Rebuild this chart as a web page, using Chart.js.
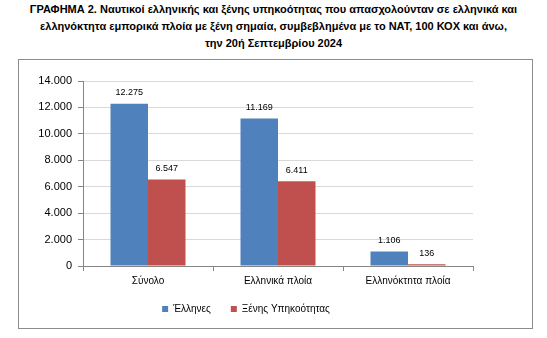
<!DOCTYPE html>
<html><head><meta charset="utf-8">
<script src="https://cdn.jsdelivr.net/npm/chart.js@4"></script>
<style>
html,body{margin:0;padding:0;background:#fff;width:547px;height:338px;overflow:hidden;}
#title{position:absolute;left:0;top:1px;width:547px;text-align:center;font:bold 11px "Liberation Sans",Arial,sans-serif;line-height:17px;color:#000;}
#frame{position:absolute;left:18px;top:59px;width:515px;height:270px;border:1px solid #8c8c8c;box-sizing:border-box;}
#wrap{position:absolute;left:19px;top:60px;width:513px;height:268px;}
</style></head><body>
<div id="title">ΓΡΑΦΗΜΑ 2. Ναυτικοί ελληνικής και ξένης υπηκοότητας που απασχολούνταν σε ελληνικά και<br>ελληνόκτητα εμπορικά πλοία με ξένη σημαία, συμβεβλημένα με το ΝΑΤ, 100 ΚΟΧ και άνω,<br>την 20ή Σεπτεμβρίου 2024</div>
<div id="frame"></div>
<div id="wrap"><canvas id="c"></canvas></div>
<script>
const categories = ['Σύνολο', 'Ελληνικά πλοία', 'Ελληνόκτητα πλοία'];
const seriesNames = ['Έλληνες', 'Ξένης Υπηκοότητας'];
const greeks = [12275, 11169, 1106];
const foreigners = [6547, 6411, 136];
const yMin = 0, yMax = 14000, yStep = 2000;

const fmt = n => String(n).replace(/\B(?=(\d{3})+(?!\d))/g, '.');
const FONT = '"Liberation Sans", Arial, sans-serif';

const valueLabels = {
  id: 'valueLabels',
  afterDatasetsDraw(chart) {
    const ctx = chart.ctx;
    ctx.save();
    ctx.font = '9px ' + FONT;
    ctx.fillStyle = '#000';
    ctx.textAlign = 'center';
    ctx.textBaseline = 'middle';
    chart.data.datasets.forEach((ds, i) => {
      chart.getDatasetMeta(i).data.forEach((el, j) => {
        ctx.fillText(fmt(ds.data[j]), el.x, el.y - 11);
      });
    });
    ctx.restore();
  }
};

new Chart(document.getElementById('c'), {
  type: 'bar',
  data: {
    labels: categories,
    datasets: [
      { label: seriesNames[0], data: greeks, backgroundColor: '#4F81BD', borderWidth: 0, categoryPercentage: 0.577, barPercentage: 1 },
      { label: seriesNames[1], data: foreigners, backgroundColor: '#C0504D', borderWidth: 0, categoryPercentage: 0.577, barPercentage: 1 }
    ]
  },
  options: {
    responsive: true,
    maintainAspectRatio: false,
    animation: false,
    layout: { padding: { top: 21, right: 59, left: 0, bottom: 4 } },
    scales: {
      x: {
        offset: true,
        afterFit(s) { s.height = 18; },
        grid: { drawOnChartArea: false, drawTicks: true, tickLength: 5, tickColor: '#868686', offset: true },
        border: { color: '#868686' },
        ticks: { color: '#000', font: { family: FONT, size: 10 }, padding: 4, maxRotation: 0 }
      },
      y: {
        min: yMin, max: yMax,
        afterFit(s) { s.width = 64; },
        grid: { color: '#d9d9d9', tickLength: 5, tickColor: '#868686' },
        border: { color: '#868686' },
        ticks: { stepSize: yStep, color: '#000', font: { family: FONT, size: 11 }, padding: 6, callback: v => fmt(v) }
      }
    },
    plugins: {
      title: { display: false },
      tooltip: { enabled: false },
      legend: {
        position: 'bottom',
        labels: { boxWidth: 6, boxHeight: 6, padding: 20, color: '#000', font: { family: FONT, size: 10 } }
      }
    }
  },
  plugins: [valueLabels]
});
</script>
</body></html>
